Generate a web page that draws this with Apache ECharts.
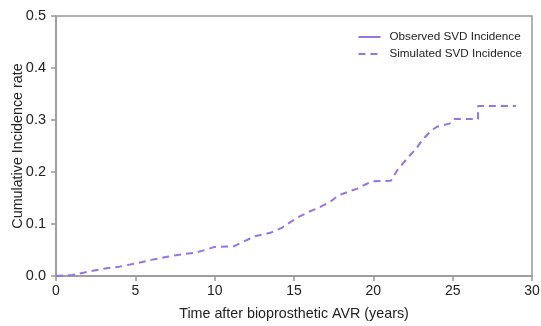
<!DOCTYPE html>
<html>
<head>
<meta charset="utf-8">
<script src="https://cdn.jsdelivr.net/npm/echarts@6/dist/echarts.min.js"></script>
<style>
  html, body { margin: 0; padding: 0; background: #fff; }
  #chart { width: 541px; height: 326px; }
</style>
</head>
<body>
<div id="chart"></div>
<script>
// simulated cumulative incidence
var simYears = [0, 1, 2, 3, 4, 5, 6, 7, 8, 8.8, 9.5, 10, 11.2, 11.8, 12.6, 13.5, 14.2, 14.6, 15.2, 15.9,
  16.6, 17.3, 17.8, 18.5, 19.0, 19.5, 19.9, 21.1, 21.5, 22.1, 22.7, 23.1, 23.6, 24.0, 24.8, 25.1, 26.6, 26.6, 29.0]
var simRates = [0, 0.002, 0.008, 0.014, 0.018, 0.024, 0.031, 0.037, 0.042, 0.045, 0.051, 0.056, 0.057, 0.066, 0.077, 0.083, 0.092, 0.1, 0.112, 0.123,
  0.132, 0.143, 0.155, 0.163, 0.168, 0.176, 0.182, 0.183, 0.203, 0.225, 0.245, 0.262, 0.278, 0.287, 0.293, 0.302, 0.302, 0.327, 0.327]
// observed curve is only in the legend
var obsYears = []
var obsRates = []

var xTicks = [0, 5, 10, 15, 20, 25, 30]
var yTicks = [0, 0.1, 0.2, 0.3, 0.4, 0.5]

var purple = "#9575e0"
var axisGray = "#999999"
var textColor = "#222"
var font = "Liberation Sans, Arial, sans-serif"

function pairs(xs, ys) {
  return xs.map(function (x, i) { return [x, ys[i]] })
}

var myChart = echarts.init(document.getElementById("chart"))

var option = {
  animation: false,
  grid: {
    left: 56, right: 9, top: 16, bottom: 50,
    outerBoundsMode: "none",
    show: true, borderColor: axisGray, borderWidth: 1.5
  },
  legend: {
    right: 14, top: 26,
    orient: "vertical",
    itemWidth: 22, itemHeight: 10, itemGap: 5,
    itemStyle: { opacity: 0 },
    textStyle: { fontSize: 11.7, color: textColor, fontFamily: font, padding: [0, 0, 0, 4] },
    data: ["Observed SVD Incidence", "Simulated SVD Incidence"]
  },
  xAxis: {
    type: "value",
    min: xTicks[0], max: xTicks[xTicks.length - 1], interval: 5,
    name: "Time after bioprosthetic AVR (years)",
    nameLocation: "middle", nameGap: 31, nameMoveOverlap: false,
    nameTextStyle: { fontSize: 14.3, color: textColor, fontFamily: font },
    axisLine: { show: true, lineStyle: { color: axisGray, width: 1.5 } },
    axisTick: { show: true, length: 5, lineStyle: { color: axisGray, width: 1.5 } },
    axisLabel: { fontSize: 14, color: textColor, fontFamily: font, margin: 8 },
    splitLine: { show: false }
  },
  yAxis: {
    type: "value",
    min: yTicks[0], max: yTicks[yTicks.length - 1], interval: 0.1,
    name: "Cumulative Incidence rate",
    nameLocation: "middle", nameGap: 31, nameMoveOverlap: false,
    nameTextStyle: { fontSize: 14.3, color: textColor, fontFamily: font },
    axisLine: { show: true, lineStyle: { color: axisGray, width: 1.5 } },
    axisTick: { show: true, length: 5, lineStyle: { color: axisGray, width: 1.5 } },
    axisLabel: {
      fontSize: 14.5, color: textColor, fontFamily: font, margin: 10,
      formatter: function (v) { return v.toFixed(1) }
    },
    splitLine: { show: false }
  },
  series: [
    {
      name: "Observed SVD Incidence",
      type: "line",
      symbol: "none",
      data: pairs(obsYears, obsRates),
      lineStyle: { color: purple, width: 2, type: "solid" },
      itemStyle: { color: purple }
    },
    {
      name: "Simulated SVD Incidence",
      type: "line",
      symbol: "none",
      data: pairs(simYears, simRates),
      lineStyle: { color: purple, width: 2, type: [7, 5] },
      itemStyle: { color: purple }
    }
  ]
}

myChart.setOption(option)

window.addEventListener("resize", () => {
  myChart.resize()
})
</script>
</body>
</html>
